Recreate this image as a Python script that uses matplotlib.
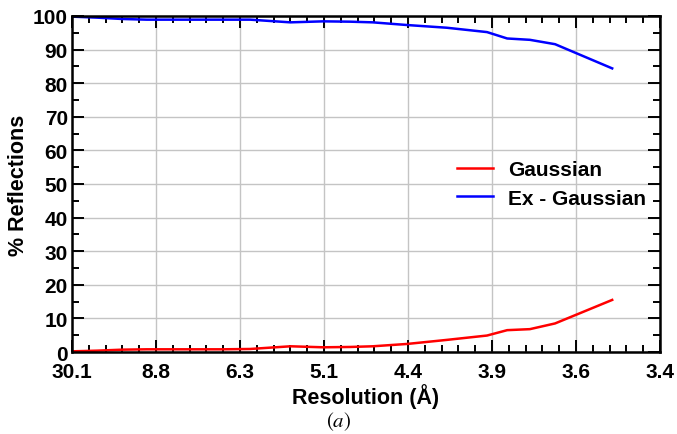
import matplotlib
matplotlib.use("Agg")
import matplotlib.pyplot as plt
from matplotlib.ticker import MultipleLocator

# resolution tick labels (evenly spaced along the axis)
res_labels = ["30.1", "8.8", "6.3", "5.1", "4.4", "3.9", "3.6", "3.4"]

# bin positions along the axis (in tick units) and % of reflections per bin
bin_pos = [0.0, 0.30, 0.60, 0.89, 1.19, 1.49, 1.79, 2.12, 2.60, 2.99,
           3.31, 3.58, 3.99, 4.46, 4.94, 5.18, 5.45, 5.75, 6.43]
gaussian = [0.2, 0.4, 0.7, 0.8, 0.8, 0.8, 0.8, 0.9, 1.7, 1.4,
            1.5, 1.7, 2.4, 3.6, 4.9, 6.5, 6.8, 8.5, 15.5]
ex_gaussian = [99.8, 99.5, 99.1, 98.9, 98.9, 98.9, 98.9, 98.9, 98.1, 98.4,
               98.3, 98.1, 97.3, 96.5, 95.2, 93.3, 92.9, 91.6, 84.4]

plt.rcParams['font.family'] = ['Liberation Sans', 'DejaVu Sans']

fig = plt.figure(figsize=(6.77, 4.35), dpi=100)
ax = fig.add_axes([0.1064, 0.1885, 0.8686, 0.7725])

ax.plot(bin_pos, gaussian, color='#ff0000', lw=1.8, label='Gaussian')
ax.plot(bin_pos, ex_gaussian, color='#0000ff', lw=1.8, label='Ex - Gaussian')

ax.set_xlim(0, len(res_labels) - 1)
ax.set_ylim(0, 100)
ax.set_xticks(range(len(res_labels)))
ax.set_xticklabels(res_labels)
ax.xaxis.set_minor_locator(MultipleLocator(0.2))
ax.yaxis.set_major_locator(MultipleLocator(10))
ax.yaxis.set_minor_locator(MultipleLocator(5))

ax.grid(True, which='major', color='#c4c4c4', lw=1.0)
ax.set_axisbelow(True)
ax.tick_params(which='both', direction='in', top=True, right=True,
               labelsize=15, width=1.4, color='black')
ax.tick_params(which='major', length=8.5)
ax.tick_params(axis='x', which='major', pad=7)
ax.tick_params(axis='y', which='major', pad=3)
ax.tick_params(which='minor', length=5)
for lab in ax.get_xticklabels() + ax.get_yticklabels():
    lab.set_fontweight('bold')
for s in ax.spines.values():
    s.set_linewidth(1.8)

ax.set_xlabel('Resolution (Å)', fontsize=15.5, fontweight='bold', labelpad=2)
ax.set_ylabel('% Reflections', fontsize=15.5, fontweight='bold', labelpad=3)

leg = ax.legend(loc='center left', bbox_to_anchor=(0.655, 0.50), frameon=False,
                borderpad=0, borderaxespad=0, handlelength=1.7,
                handletextpad=0.75, labelspacing=0.45,
                prop={'size': 15, 'weight': 'bold'})

fig.text(0.4995, 0.030, r'$(a)$', fontsize=15, ha='center', va='center',
         math_fontfamily='stix')

fig.savefig('out.png', dpi=100)
